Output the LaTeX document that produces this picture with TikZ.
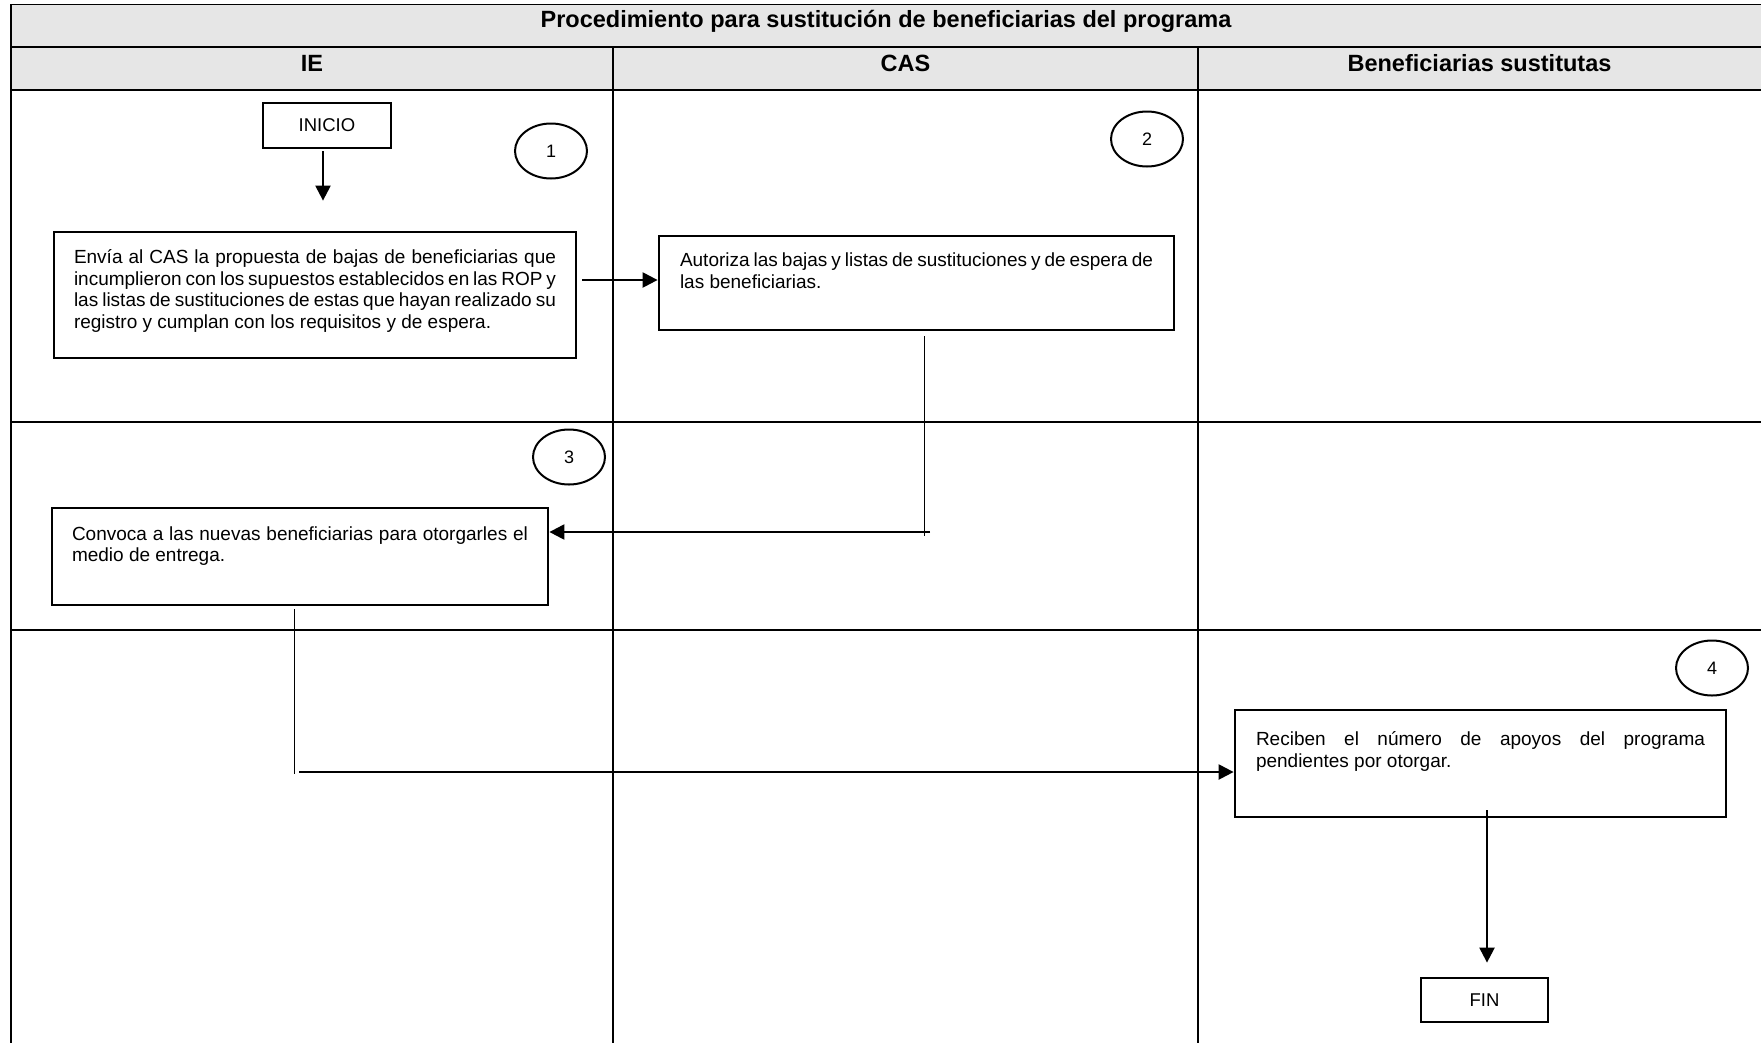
\documentclass[tikz,border=0pt]{standalone}
\usepackage{fontspec}
\setmainfont{Liberation Sans}
\usetikzlibrary{arrows.meta,shapes.geometric,calc}
\definecolor{hdrgray}{RGB}{230,230,230}
\newcommand\boxpar[4]{\parbox[c][#2][t]{#1}{\vspace*{#3}#4}}
\newcommand\jline[1]{\makebox[\linewidth][s]{\strut #1}}
\begin{document}
\begin{tikzpicture}[x=1pt,y=-1pt,
  frame/.style={line width=1.6pt},
  procbox/.style={draw, line width=2.8pt, inner ysep=0pt, font=\fontsize{19}{21.7}\selectfont},
  termbox/.style={draw, line width=2.8pt, inner sep=0pt, font=\fontsize{18.5}{22}\selectfont},
  numcirc/.style={draw, ellipse, line width=2pt, inner sep=0pt, minimum width=72pt, minimum height=55pt, font=\fontsize{18}{22}\selectfont},
  titletext/.style={anchor=base, font=\bfseries\fontsize{23.5}{28}\selectfont},
  arr/.style={line width=2.3pt, -{Triangle[length=15pt,width=15pt]}},
  conn/.style={line width=1pt}]
\clip (0,0) rectangle (1761,1042);
% lanes
\fill[hdrgray] (11,4.5) rectangle (1765,90);
\draw[frame] (1765,4.5) -- (11,4.5) -- (11,1045);
\draw[frame] (11,47) -- (1765,47);
\draw[frame] (11,90) -- (1765,90);
\draw[frame] (11,422) -- (1765,422);
\draw[frame] (11,630) -- (1765,630);
\draw[frame] (613,47) -- (613,1045);
\draw[frame] (1198,47) -- (1198,1045);
\node[titletext] (title) at (886,27.5) {Procedimiento para sustitución de beneficiarias del programa};
\node[titletext] (hIE) at (312,71.5) {IE};
\node[titletext] (hCAS) at (905.5,71.5) {CAS};
\node[titletext] (hBS) at (1479.5,71.5) {Beneficiarias sustitutas};
% terminals
\node[termbox, minimum width=128pt, minimum height=45pt] (inicio) at (327,125.5) {INICIO};
\node[termbox, minimum width=127pt, minimum height=44pt] (fin) at (1484.5,1000) {FIN};
% step numbers
\node[numcirc] (n1) at (551,151) {1};
\node[numcirc] (n2) at (1147,139) {2};
\node[numcirc] (n3) at (569,457) {3};
\node[numcirc] (n4) at (1712,668) {4};
% process boxes
\node[procbox, inner xsep=20pt] (box1) at (315,295) {\boxpar{482pt}{126pt}{16.3pt}{%
\jline{Envía al CAS la propuesta de bajas de beneficiarias que}\\
\jline{incumplieron con los supuestos establecidos en las ROP y}\\
\jline{las listas de sustituciones de estas que hayan realizado su}\\
\strut registro y cumplan con los requisitos y de espera.}};
\node[procbox, inner xsep=21pt] (box2) at (916.5,283) {\boxpar{473pt}{94pt}{15.2pt}{%
\jline{Autoriza las bajas y listas de sustituciones y de espera de}\\
\strut las beneficiarias.}};
\node[procbox, inner xsep=20pt] (box3) at (300,556.5) {\boxpar{456pt}{97pt}{17pt}{%
\jline{Convoca a las nuevas beneficiarias para otorgarles el}\\
\strut medio de entrega.}};
\node[procbox, inner xsep=21pt] (box4) at (1480.5,763.5) {\boxpar{449pt}{107pt}{20.5pt}{%
\jline{Reciben el número de apoyos del programa}\\
\strut pendientes por otorgar.}};
% connectors
\draw[arr, shorten <=2pt, shorten >=30pt] ([xshift=-4pt]inicio.south) -- ([xshift=-4pt]inicio.south |- box1.north);
\draw[arr, shorten <=5pt] ([yshift=15pt]box1.east) -- ([yshift=15pt]box1.east -| box2.west);
\coordinate (k1) at (924,536);
\coordinate (k1h) at (930,532);
\draw[conn, shorten <=5pt] (box2.south -| k1) -- (k1);
\draw[arr] (k1h) -- (k1h -| box3.east);
\coordinate (k2) at (294,774);
\coordinate (k2h) at (299,772);
\draw[conn, shorten <=3pt] (box3.south -| k2) -- (k2);
\draw[arr] (k2h) -- (k2h -| box4.west);
\draw[arr, shorten >=14pt] ([xshift=6.5pt,yshift=8pt]box4.south) -- ([xshift=6.5pt]box4.south |- fin.north);
\end{tikzpicture}
\end{document}
